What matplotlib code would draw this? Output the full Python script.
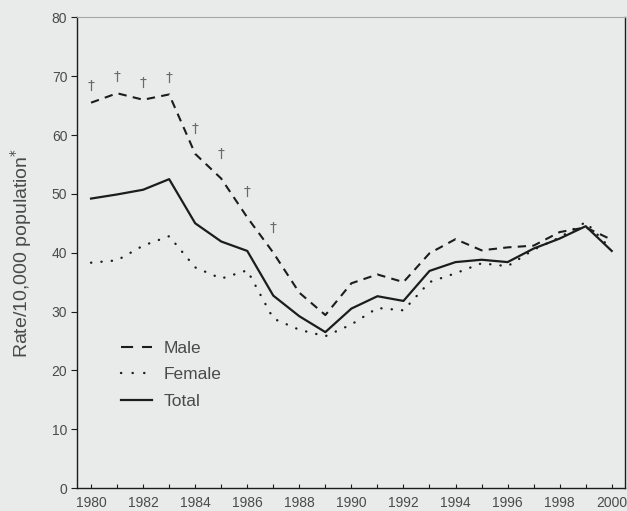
import matplotlib
matplotlib.use("Agg")
import matplotlib.pyplot as plt
from matplotlib.lines import Line2D
from matplotlib.ticker import MultipleLocator

years = list(range(1980, 2001))
male = [65.5, 67.1, 66.0, 66.9, 56.8, 52.6, 46.0, 40.0, 33.2, 29.4, 34.8,
        36.3, 35.0, 39.9, 42.3, 40.4, 40.9, 41.2, 43.5, 44.3, 42.2]
female = [38.3, 38.7, 41.2, 42.8, 37.5, 35.6, 37.0, 28.8, 26.9, 25.8, 27.8,
          30.6, 30.2, 35.0, 36.5, 38.2, 37.7, 40.5, 42.6, 45.2, 40.5]
total = [49.2, 49.9, 50.7, 52.5, 45.0, 41.9, 40.3, 32.7, 29.2, 26.5, 30.5,
         32.6, 31.8, 36.9, 38.4, 38.8, 38.4, 40.7, 42.4, 44.5, 40.3]
# years where the male rate differs significantly from the later rate
dagger_years = [1980, 1981, 1982, 1983, 1984, 1985, 1986, 1987]
series_names = ["Male", "Female", "Total"]

bg = "#e9ebea"
ink = "#1c1c1c"
text_col = "#4a4a4a"

plt.rcParams["font.family"] = ["Liberation Sans", "DejaVu Sans"]

fig = plt.figure(figsize=(6.27, 5.11), dpi=100, facecolor=bg)
ax = fig.add_axes([0.1228, 0.045, 0.8740, 0.921], facecolor=bg)

male_style = dict(color=ink, lw=1.5, linestyle=(0, (4, 3)))
female_style = dict(color=ink, lw=1.7, linestyle=(0, (0.1, 4.3)),
                    dash_capstyle="round")
total_style = dict(color=ink, lw=1.6)

ax.plot(years, male, **male_style)
ax.plot(years, female, **female_style)
ax.plot(years, total, **total_style)

for yr in dagger_years:
    v = male[years.index(yr)]
    off = 7 if yr <= 1983 else 13
    ax.annotate("\u2020", (yr, v), xytext=(0, off), textcoords="offset points",
                ha="center", va="bottom", fontsize=10, color="#6a6a6a",
                family=["DejaVu Sans"])

ax.set_xlim(1979.46, 2000.51)
ax.set_ylim(0, 80)
ax.xaxis.set_major_locator(MultipleLocator(2))
ax.xaxis.set_minor_locator(MultipleLocator(1))
ax.yaxis.set_major_locator(MultipleLocator(10))

ax.tick_params(axis="x", which="both", direction="in", length=3, width=0.8,
               colors=ink, labelcolor=text_col, labelsize=10, pad=5.5)
ax.tick_params(axis="y", which="major", direction="out", length=4, width=0.8,
               colors=ink, labelcolor=text_col, labelsize=10, pad=3)

for side in ("left", "bottom", "right"):
    ax.spines[side].set_color(ink)
    ax.spines[side].set_linewidth(1.0)
ax.spines["top"].set_color("#a8a8a8")
ax.spines["top"].set_linewidth(0.8)

ax.set_ylabel("Rate/10,000 population$^{*}$", fontsize=14, color=text_col,
              labelpad=13)

handles = [
    Line2D([], [], color=ink, lw=1.5, linestyle=(0, (5.8, 4.3))),
    Line2D([], [], color=ink, lw=1.7, linestyle=(0, (0.1, 4.8)),
           dash_capstyle="round"),
    Line2D([], [], **total_style),
]
ax.legend(handles, series_names, loc="upper left",
          bbox_to_anchor=(0.0797, 0.313), frameon=False, borderpad=0,
          borderaxespad=0, fontsize=12.5, handlelength=1.8,
          handletextpad=0.65, labelspacing=0.65, labelcolor=text_col)

fig.savefig("out.png", dpi=100, facecolor=bg)
